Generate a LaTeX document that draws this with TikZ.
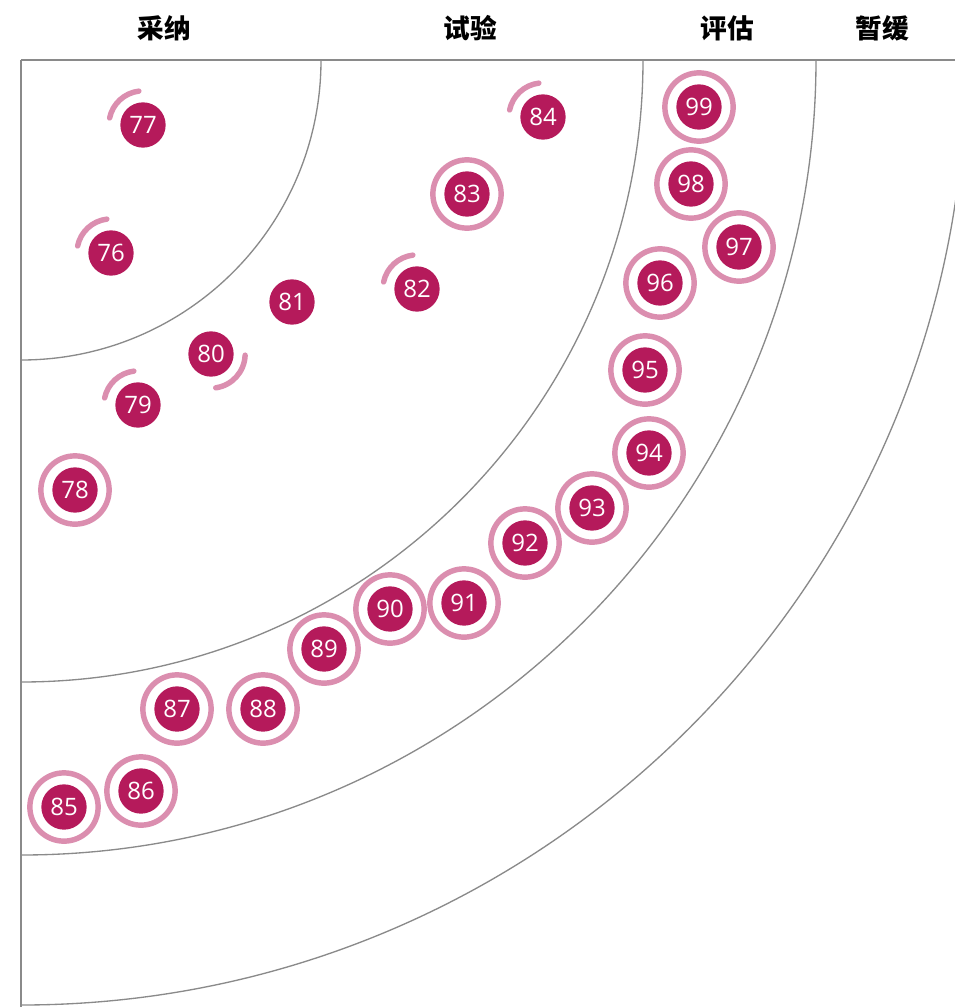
\documentclass[tikz,border=0pt]{standalone}
\usepackage{fontspec}
\setmainfont{Open Sans}
\newfontfamily\cjk{Noto Sans CJK SC}
\definecolor{blipfill}{HTML}{B51A5B}
\definecolor{blipring}{HTML}{DB8EAF}
\definecolor{axisgray}{HTML}{8A8A8A}
\begin{document}
\begin{tikzpicture}[x=0.75pt,y=-0.75pt,
  blip/.style={circle,fill=blipfill,minimum size=34pt,inner sep=0pt,text=white,font=\fontsize{18}{18}\selectfont},
  ring/.style={draw=blipring,line width=4.1pt},
  partring/.style={draw=blipring,line width=4.1pt,line cap=round},
  axisline/.style={draw=axisgray,line width=1pt},
  title/.style={font=\cjk\bfseries\fontsize{20}{20}\selectfont,text=black}]
\useasboundingbox (0,0) rectangle (955,1007);
\clip (0,0) rectangle (955,1007);
\coordinate (o) at (21,60);
% titles
\node[title] (t1) at (164,28) {采纳};
\node[title] (t2) at (470,28) {试验};
\node[title] (t3) at (727,28) {评估};
\node[title] (t4) at (882,28) {暂缓};
% axes
\draw[axisline] (o) -- (955,60);
\draw[axisline] (o) -- (21,1010);
\draw[axisline] (321,60) arc[start angle=0,end angle=-90,radius=225pt];
\draw[axisline] (643,60) arc[start angle=0,end angle=-90,radius=466.5pt];
\draw[axisline] (816,60) arc[start angle=0,end angle=-90,radius=596.25pt];
\draw[axisline] (966,60) arc[start angle=0,end angle=-90,radius=708.75pt];
% blips
\foreach \n/\x/\y in {77/143/125,76/111/253,81/292/302,82/417/289,80/211/354,79/138/405,84/543/117,
  78/75/490,83/467/194,99/699/107,98/691/184,97/739/247,96/660/283,95/645/370,94/649/453,
  93/592/508,92/525/543,91/464/603,90/390/609,89/324/649,87/177/709,88/263/709,86/141/791,85/64/807}
  {\node[blip] (b\n) at (\x,\y) {\n};}
% full rings
\foreach \n in {78,83,99,98,97,96,95,94,93,92,91,90,89,87,88,86,85}
  {\draw[ring] (b\n.center) circle[radius=25.6pt];}
% partial rings (upper left)
\foreach \n in {77,76,79,82,84}
  {\draw[partring] (b\n.center) ++(97:25.6pt) arc[start angle=97,end angle=168,radius=25.6pt];}
% partial ring (lower right)
\draw[partring] (b80.center) ++(-2:25.6pt) arc[start angle=-2,end angle=-82,radius=25.6pt];
\end{tikzpicture}
\end{document}
